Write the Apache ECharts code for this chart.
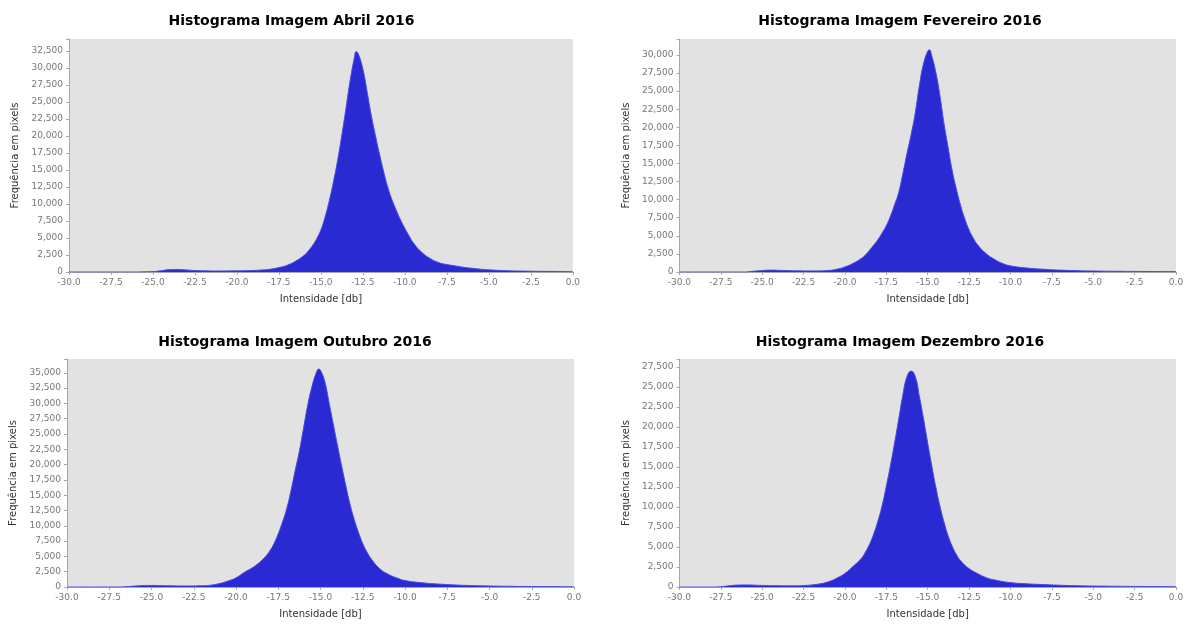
<!DOCTYPE html>
<html>
<head>
<meta charset="utf-8">
<script src="https://cdn.jsdelivr.net/npm/echarts@6/dist/echarts.min.js"></script>
<style>
  html, body { margin: 0; padding: 0; background: #ffffff; }
  body { width: 1187px; height: 624px; position: relative; overflow: hidden; }
  .panel { position: absolute; }
</style>
</head>
<body>
<div id="c1" class="panel" style="left:0px;top:0px;width:583px;height:312px;"></div>
<div id="c2" class="panel" style="left:613px;top:0px;width:574px;height:312px;"></div>
<div id="c3" class="panel" style="left:0px;top:312px;width:590px;height:312px;"></div>
<div id="c4" class="panel" style="left:613px;top:312px;width:574px;height:312px;"></div>
<script>
// ---- Data ----
const titles = [
  'Histograma Imagem Abril 2016',
  'Histograma Imagem Fevereiro 2016',
  'Histograma Imagem Outubro 2016',
  'Histograma Imagem Dezembro 2016'
];
const xAxisName = 'Intensidade [db]';
const yAxisName = 'Frequência em pixels';

const abrilIntensity = [-30, -26, -25.5, -25, -24.5, -24, -23.5, -23, -22.5, -22,
  -21, -20, -19, -18.5, -18, -17.5, -17, -16.5, -16, -15.75,
  -15.5, -15.25, -15, -14.75, -14.5, -14.25, -14, -13.75, -13.5, -13.25,
  -13, -12.9, -12.75, -12.5, -12.25, -12, -11.75, -11.5, -11.25, -11,
  -10.75, -10.5, -10.25, -10, -9.75, -9.5, -9, -8.5, -8, -7.5,
  -7, -6.5, -6, -5.5, -5, -4.5, -4, -3, -2, -1, 0];
const abrilFrequency = [0, 0, 20, 60, 200, 350, 380, 300, 220, 180,
  150, 170, 230, 300, 420, 650, 1000, 1600, 2450, 3100,
  3900, 4900, 6200, 8100, 10500, 13300, 16500, 20200, 24200, 28300,
  31600, 32400, 31900, 29800, 26500, 23000, 20000, 17200, 14600, 12300,
  10500, 9000, 7600, 6400, 5300, 4300, 2900, 2000, 1400, 1100,
  900, 700, 550, 420, 320, 250, 200, 140, 100, 80, 60];

const fevereiroIntensity = [-30, -26, -25.75, -25, -24.5, -24, -23, -22, -21, -20.5,
  -20, -19.5, -19, -18.75, -18.5, -18.25, -18, -17.75, -17.5, -17.25,
  -17, -16.75, -16.5, -16.25, -16, -15.75, -15.5, -15.25, -15, -14.9,
  -14.75, -14.5, -14.25, -14, -13.75, -13.5, -13.25, -13, -12.75, -12.5,
  -12.25, -12, -11.5, -11, -10.5, -10, -9, -8, -7, -6,
  -5, -4, -2.5, -1, 0];
const fevereiroFrequency = [0, 0, 60, 200, 260, 230, 170, 150, 220, 380,
  700, 1200, 1900, 2400, 3050, 3750, 4500, 5400, 6400, 7700,
  9300, 11000, 13600, 16400, 19000, 22000, 25800, 28800, 30500, 30700,
  29800, 27500, 24200, 20300, 17000, 13800, 11300, 9100, 7300, 5800,
  4700, 3800, 2600, 1800, 1200, 850, 550, 380, 260, 190,
  140, 110, 80, 60, 50];

const outubroIntensity = [-30, -27, -26.5, -26, -25.5, -25, -24, -23, -22, -21.5,
  -21, -20.5, -20, -19.5, -19, -18.75, -18.5, -18.25, -18, -17.75,
  -17.5, -17.25, -17, -16.75, -16.5, -16.25, -16, -15.75, -15.5, -15.25,
  -15.1, -15, -14.75, -14.5, -14.25, -14, -13.75, -13.5, -13.25, -13,
  -12.75, -12.5, -12.25, -12, -11.5, -11, -10.5, -10, -9, -8,
  -7, -6, -5, -4, -2.5, -1, 0];
const outubroFrequency = [0, 0, 60, 150, 230, 260, 200, 170, 200, 300,
  550, 950, 1500, 2400, 3200, 3700, 4300, 5000, 5900, 7100,
  8700, 10600, 12800, 15700, 19000, 22200, 26000, 29800, 32800, 35000,
  35600, 35400, 33600, 30200, 26700, 23200, 19800, 16500, 13500, 11000,
  8900, 7100, 5700, 4600, 3000, 2100, 1500, 1050, 700, 480,
  330, 230, 160, 120, 80, 60, 50];

const dezembroIntensity = [-30, -28, -27.5, -27, -26.5, -26, -25, -24, -23, -22.5,
  -22, -21.5, -21, -20.5, -20, -19.5, -19, -18.75, -18.5, -18.25,
  -18, -17.75, -17.5, -17.25, -17, -16.75, -16.5, -16.25, -16, -15.75,
  -15.5, -15.25, -15, -14.75, -14.5, -14.25, -14, -13.75, -13.5, -13.25,
  -13, -12.5, -12, -11.5, -11, -10, -9, -8, -7, -6,
  -5, -4, -2.5, -1, 0];
const dezembroFrequency = [0, 0, 40, 150, 240, 260, 200, 160, 150, 180,
  260, 400, 650, 1100, 1700, 2600, 3600, 4400, 5400, 6700,
  8300, 10200, 12600, 15200, 18000, 21000, 24000, 26300, 27000, 26300,
  23800, 21000, 18000, 15100, 12400, 10000, 8000, 6300, 5000, 4000,
  3250, 2300, 1700, 1200, 900, 550, 400, 300, 220, 160,
  120, 100, 70, 55, 50];

const yMaxima = [34250, 32200, 37250, 28500];

// ---- Chart construction ----
const FONT = 'DejaVu Sans';
function makeChart(elId, title, xs, ys, yMax, grid, titleTop, yNameGap) {
  const chart = echarts.init(document.getElementById(elId), null, { renderer: 'canvas' });
  const data = xs.map((x, i) => [x, ys[i]]);
  chart.setOption({
    animation: false,
    title: {
      text: title, left: 'center', top: titleTop, padding: 0,
      textStyle: { fontFamily: FONT, fontWeight: 'bold', fontSize: 14, color: '#000' }
    },
    grid: Object.assign({ show: true, backgroundColor: '#e2e2e2', borderWidth: 0, containLabel: false }, grid),
    xAxis: {
      type: 'value', min: -30, max: 0, interval: 2.5,
      name: xAxisName, nameLocation: 'middle', nameGap: 22,
      nameTextStyle: { fontFamily: FONT, fontSize: 10, color: '#333' },
      axisLine: { show: true, onZero: false, lineStyle: { color: '#a8a8a8', width: 1 } },
      axisTick: { show: true, length: 3, lineStyle: { color: '#a8a8a8' } },
      axisLabel: { formatter: v => v.toFixed(1), fontFamily: FONT, fontSize: 9, color: '#777', margin: 6 },
      splitLine: { show: false }
    },
    yAxis: {
      type: 'value', min: 0, max: yMax, interval: 2500,
      name: yAxisName, nameLocation: 'middle', nameGap: yNameGap,
      nameTextStyle: { fontFamily: FONT, fontSize: 10, color: '#333' },
      axisLine: { show: true, onZero: false, lineStyle: { color: '#a8a8a8', width: 1 } },
      axisTick: { show: true, length: 3, lineStyle: { color: '#a8a8a8' } },
      axisLabel: {
        formatter: v => (v % 2500 === 0 ? v.toLocaleString('en-US') : ''),
        fontFamily: FONT, fontSize: 9, color: '#777', margin: 6
      },
      splitLine: { show: false }
    },
    series: [{
      type: 'line', data: data, showSymbol: false, smooth: 0.5,
      lineStyle: { color: '#4a4ae6', width: 1 },
      itemStyle: { color: '#2a2ad2' },
      areaStyle: { color: '#2a2ad2', opacity: 1 }
    }]
  });
}

makeChart('c1', titles[0], abrilIntensity, abrilFrequency, yMaxima[0],
  { left: 69, top: 39, width: 506, height: 233 }, 14, 46);
makeChart('c2', titles[1], fevereiroIntensity, fevereiroFrequency, yMaxima[1],
  { left: 59, top: 39, width: 504, height: 233 }, 14, 44);
makeChart('c3', titles[2], outubroIntensity, outubroFrequency, yMaxima[2],
  { left: 67, top: 47, width: 507, height: 232 }, 23, 46);
makeChart('c4', titles[3], dezembroIntensity, dezembroFrequency, yMaxima[3],
  { left: 58, top: 47, width: 505, height: 232 }, 23, 43);
</script>
</body>
</html>
